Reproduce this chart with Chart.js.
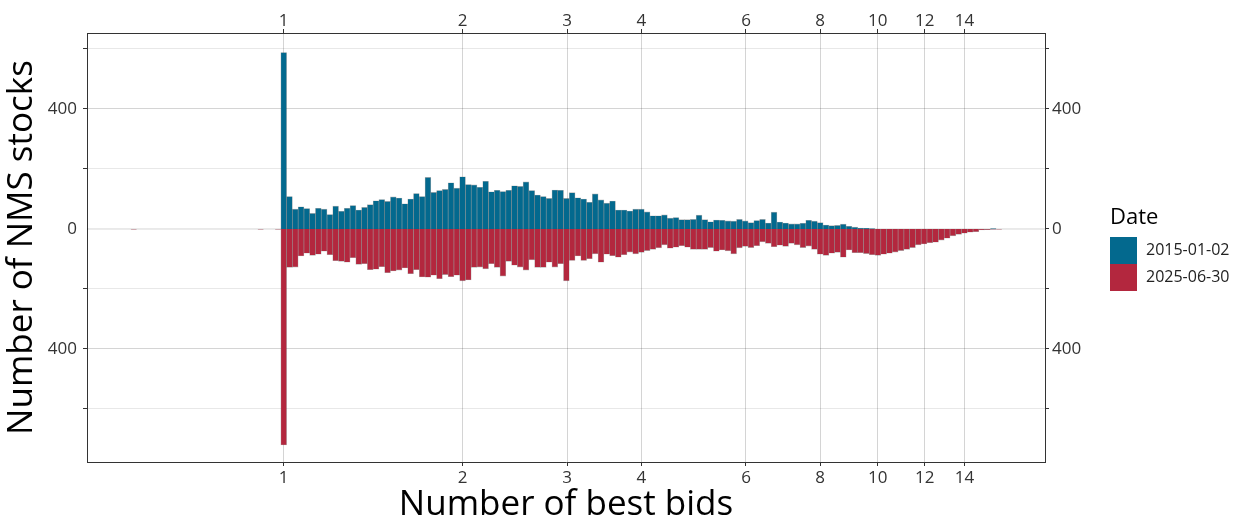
<!DOCTYPE html>
<html>
<head>
<meta charset="utf-8">
<script src="https://cdn.jsdelivr.net/npm/chart.js@4.4.1/dist/chart.umd.min.js"></script>
<style>
  html, body { margin: 0; padding: 0; background: #fff; }
</style>
</head>
<body>
<canvas id="bidChart" width="1239" height="525"></canvas>
<script>
// --- DATA ---
// histogram bins are equal width on log10(number of best bids); bin 0 is centred on 1
const BIN_W = Math.log10(2) / 31;

// counts per bin, bin 0 .. 124
const stocks2015 = [
  588, 108, 66, 74, 68, 52, 69, 66, 48, 76,
  59, 69, 78, 63, 72, 81, 94, 98, 92, 107,
  103, 84, 100, 118, 108, 172, 122, 128, 132, 154,
  136, 174, 148, 147, 139, 159, 124, 129, 125, 129,
  144, 142, 157, 128, 113, 108, 102, 130, 129, 102,
  121, 104, 100, 89, 117, 97, 86, 93, 63, 63,
  60, 66, 66, 57, 44, 44, 47, 36, 38, 31,
  31, 32, 46, 31, 24, 30, 29, 27, 26, 32,
  27, 21, 28, 32, 20, 56, 23, 20, 17, 17,
  19, 29, 26, 21, 13, 11, 12, 16, 9, 6,
  3, 2, 1, 0, 0, 0, 0, 0, 0, 0,
  0, 0, 0, 0, 0, 0, 0, 0, 0, 0,
  0, 0, 0, 1, 0
];
const stocks2025 = [
  720, 128, 127, 90, 81, 88, 84, 74, 86, 106,
  108, 111, 96, 118, 116, 136, 134, 126, 146, 140,
  137, 130, 149, 136, 160, 161, 154, 166, 152, 159,
  154, 173, 170, 128, 127, 133, 116, 128, 157, 108,
  121, 127, 137, 103, 128, 128, 111, 127, 116, 173,
  105, 90, 105, 99, 83, 111, 84, 89, 94, 86,
  77, 83, 78, 72, 68, 63, 53, 64, 61, 56,
  61, 68, 68, 68, 62, 74, 70, 73, 83, 63,
  58, 62, 56, 43, 48, 59, 54, 58, 48, 53,
  62, 57, 68, 84, 88, 81, 78, 94, 70, 79,
  79, 82, 86, 88, 84, 81, 77, 72, 68, 62,
  53, 50, 46, 44, 37, 31, 23, 18, 14, 11,
  9, 3, 2, 1, 1
];
// a few stray bins below 1
const lowBins = [-26, -4, -1];
const low2025 = [1, 1, 1];

const xTicks = [1, 2, 3, 4, 6, 8, 10, 12, 14];
const yTicks = [-600, -400, -200, 0, 200, 400, 600];
const yLabelled = [-400, 0, 400];

const seriesNames = ['2015-01-02', '2025-06-30'];
const seriesColors = ['#03698e', '#b3273e'];

// --- BUILD ---
const binCenter = i => Math.pow(10, i * BIN_W);
const pts2015 = stocks2015.map((v, i) => ({ x: binCenter(i), y: v }));
const pts2025 = lowBins.map((b, k) => ({ x: binCenter(b), y: -low2025[k] }))
  .concat(stocks2025.map((v, i) => ({ x: binCenter(i), y: -v })));

const FONT = '"Open Sans", "Noto Sans", sans-serif';
const tickFont = { family: FONT, size: 17 };
const MAJOR = 'rgba(0,0,0,0.17)';
const MINOR = 'rgba(0,0,0,0.09)';
const setXTicks = s => { s.ticks = xTicks.map(v => ({ value: v })); };
const setYTicks = s => { s.ticks = yTicks.map(v => ({ value: v })); };
const yLabel = v => yLabelled.includes(v) ? String(Math.abs(v)) : '';
const gridCol = ctx => (ctx.tick && yLabelled.includes(ctx.tick.value)) ? MAJOR : MINOR;
// zero line drawn by hand, so chart.js does not pull the bars off the baseline
const gridWidth = ctx => (ctx.tick && ctx.tick.value === 0) ? 0 : 1;

const zeroLine = {
  id: 'zeroLine',
  beforeDatasetsDraw(chart) {
    const { ctx, chartArea, scales } = chart;
    const y = scales.y.getPixelForValue(0);
    ctx.save();
    ctx.strokeStyle = MAJOR;
    ctx.lineWidth = 1;
    ctx.beginPath();
    ctx.moveTo(chartArea.left, y);
    ctx.lineTo(chartArea.right, y);
    ctx.stroke();
    ctx.restore();
  }
};

const legendPlugin = {
  id: 'dateLegend',
  afterDraw(chart) {
    const ctx = chart.ctx;
    ctx.save();
    ctx.fillStyle = '#000';
    ctx.font = '22px ' + FONT;
    ctx.textBaseline = 'alphabetic';
    ctx.fillText('Date', 1110, 224);
    ctx.font = '16px ' + FONT;
    ctx.textBaseline = 'middle';
    seriesNames.forEach((name, k) => {
      const y = 237 + k * 27;
      ctx.fillStyle = seriesColors[k];
      ctx.fillRect(1110, y, 27, 27);
      ctx.fillStyle = '#222';
      ctx.fillText(name, 1146, y + 13.5);
    });
    ctx.restore();
  }
};

new Chart(document.getElementById('bidChart'), {
  type: 'bar',
  data: {
    datasets: [
      { label: seriesNames[0], data: pts2015, backgroundColor: seriesColors[0],
        borderColor: 'rgba(30,30,30,0.35)', borderWidth: 0.6, grouped: false,
        categoryPercentage: 1, barPercentage: 1 },
      { label: seriesNames[1], data: pts2025, backgroundColor: seriesColors[1],
        borderColor: 'rgba(30,30,30,0.35)', borderWidth: 0.6, grouped: false,
        categoryPercentage: 1, barPercentage: 1 }
    ]
  },
  options: {
    responsive: false,
    animation: false,
    layout: { padding: 0 },
    plugins: { legend: { display: false }, tooltip: { enabled: false } },
    scales: {
      x: {
        type: 'logarithmic', position: 'bottom', min: 0.4665, max: 19.12, offset: false,
        afterBuildTicks: setXTicks,
        afterFit: s => { s.height = 63; },
        grid: { offset: false, color: MAJOR, tickColor: '#333', tickLength: 4 },
        border: { display: true, color: '#333', width: 1 },
        ticks: { font: tickFont, color: '#333', padding: 2, maxRotation: 0, autoSkip: false, callback: v => String(v) },
        title: { display: true, text: 'Number of best bids', font: { family: FONT, size: 35, lineHeight: 1 }, color: '#000', padding: { top: 0, bottom: 2 } }
      },
      x2: {
        type: 'logarithmic', position: 'top', min: 0.4665, max: 19.12, offset: false,
        afterBuildTicks: setXTicks,
        afterFit: s => { s.height = 33; },
        grid: { offset: false, drawOnChartArea: false, tickColor: '#333', tickLength: 4 },
        border: { display: true, color: '#333', width: 1 },
        ticks: { font: tickFont, color: '#333', padding: -2, maxRotation: 0, autoSkip: false, callback: v => String(v) }
      },
      y: {
        type: 'linear', position: 'left', min: -776.7, max: 653.3,
        afterBuildTicks: setYTicks,
        afterFit: s => { s.width = 87; },
        grid: { color: gridCol, lineWidth: gridWidth, tickColor: '#333', tickLength: 4 },
        border: { display: true, color: '#333', width: 1 },
        ticks: { font: tickFont, color: '#333', padding: 6, callback: yLabel },
        title: { display: true, text: 'Number of NMS stocks', font: { family: FONT, size: 35, lineHeight: 1 }, color: '#000', padding: { top: 5, bottom: 0 } }
      },
      y2: {
        type: 'linear', position: 'right', min: -776.7, max: 653.3,
        afterBuildTicks: setYTicks,
        afterFit: s => { s.width = 194; },
        grid: { drawOnChartArea: false, tickColor: '#333', tickLength: 4 },
        border: { display: true, color: '#333', width: 1 },
        ticks: { font: tickFont, color: '#333', padding: 3, callback: yLabel }
      }
    }
  },
  plugins: [zeroLine, legendPlugin]
});
</script>
</body>
</html>
